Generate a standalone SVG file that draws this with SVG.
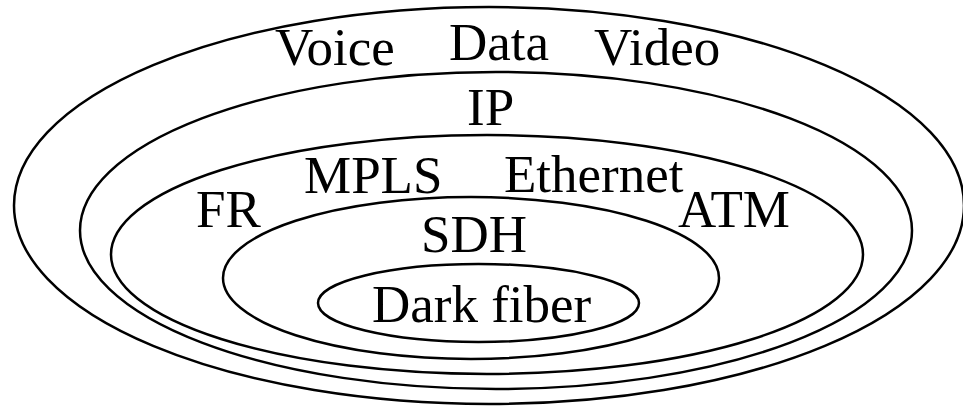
<svg xmlns="http://www.w3.org/2000/svg" width="963" height="408" viewBox="0 0 963 408">
<style>
.ring{fill:none;stroke:#000;stroke-width:2.5}
.lbl{font-family:"Liberation Serif","Times New Roman",serif;font-size:53px;fill:#000}
</style>
<rect width="963" height="408" fill="#fff"/>
<g id="apps">
<ellipse class="ring" cx="489" cy="205.5" rx="475" ry="198.5"/>
<text class="lbl" x="275" y="65">Voice</text>
<text class="lbl" x="449" y="60">Data</text>
<text class="lbl" x="594" y="65">Video</text>
</g>
<g id="ip">
<ellipse class="ring" cx="496" cy="230.5" rx="416" ry="158.5"/>
<text class="lbl" x="467" y="125">IP</text>
</g>
<g id="l2">
<ellipse class="ring" cx="487" cy="254.5" rx="376" ry="119.5"/>
<text class="lbl" x="304" y="193">MPLS</text>
<text class="lbl" x="504" y="192">Ethernet</text>
<text class="lbl" x="196" y="227">FR</text>
<text class="lbl" x="678" y="227">ATM</text>
</g>
<g id="sdh">
<ellipse class="ring" cx="471" cy="278" rx="248" ry="81"/>
<text class="lbl" x="421" y="252">SDH</text>
</g>
<g id="fiber">
<ellipse class="ring" cx="478.5" cy="303" rx="160.5" ry="39"/>
<text class="lbl" x="372" y="322">Dark fiber</text>
</g>
<g id="connectors"/>
</svg>
